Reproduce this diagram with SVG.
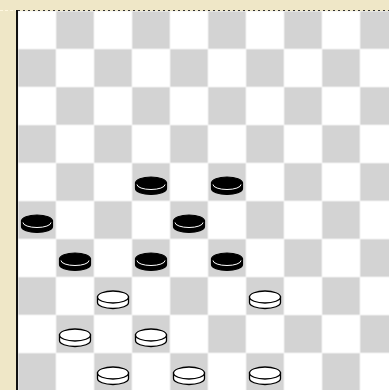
<svg xmlns="http://www.w3.org/2000/svg" width="389" height="390" viewBox="0 0 389 390">
<style>
.frame{fill:#efe7c7}
.bp{fill:#000;stroke:#000;stroke-width:1.2}
.wp{fill:#fff;stroke:#000;stroke-width:1.3}
.hl{fill:none;stroke:#fff;stroke-width:1}
</style>
<defs>
<pattern id="board" patternUnits="userSpaceOnUse" x="18" y="11" width="76" height="76">
<rect x="0" y="0" width="76" height="76" fill="#f2f2f2"/>
<rect x="0.5" y="0.5" width="37" height="37" fill="#fff"/>
<rect x="38.5" y="38.5" width="37" height="37" fill="#fff"/>
<rect x="38.5" y="0.5" width="37" height="37" fill="#d3d3d3"/>
<rect x="0.5" y="38.5" width="37" height="37" fill="#d3d3d3"/>
</pattern>
<g id="black">
<path class="bp" d="M3.5,20 L3.5,25.5 A15.5,6 0 0 0 34.5,25.5 L34.5,20 Z"/>
<ellipse class="bp" cx="19" cy="20" rx="15.5" ry="6"/>
<path class="hl" d="M5,21.5 A14,5 0 0 0 33,21.5"/>
</g>
<g id="white">
<path class="wp" d="M3.5,20 L3.5,25.5 A15.5,6 0 0 0 34.5,25.5 L34.5,20 Z"/>
<ellipse class="wp" cx="19" cy="20" rx="15.5" ry="6"/>
</g>
</defs>
<rect class="frame" x="0" y="0" width="389" height="390"/>
<rect x="18" y="11" width="380" height="380" fill="url(#board)"/>
<line x1="18" y1="10.5" x2="389" y2="10.5" stroke="#333" stroke-width="1" stroke-dasharray="2 3"/>
<line x1="0" y1="10.5" x2="16" y2="10.5" stroke="#fff8e0" stroke-width="1" stroke-dasharray="3 2"/>
<rect x="16" y="10" width="2" height="380" fill="#111"/>
<g id="connectors"></g>
<g id="b-4-3"><use href="#black" x="132" y="163"/></g>
<g id="b-4-5"><use href="#black" x="208" y="163"/></g>
<g id="b-5-0"><use href="#black" x="18" y="201"/></g>
<g id="b-5-4"><use href="#black" x="170" y="201"/></g>
<g id="b-6-1"><use href="#black" x="56" y="239"/></g>
<g id="b-6-3"><use href="#black" x="132" y="239"/></g>
<g id="b-6-5"><use href="#black" x="208" y="239"/></g>
<g id="w-7-2"><use href="#white" x="94" y="277"/></g>
<g id="w-7-6"><use href="#white" x="246" y="277"/></g>
<g id="w-8-1"><use href="#white" x="56" y="315"/></g>
<g id="w-8-3"><use href="#white" x="132" y="315"/></g>
<g id="w-9-2"><use href="#white" x="94" y="353"/></g>
<g id="w-9-4"><use href="#white" x="170" y="353"/></g>
<g id="w-9-6"><use href="#white" x="246" y="353"/></g>
</svg>
